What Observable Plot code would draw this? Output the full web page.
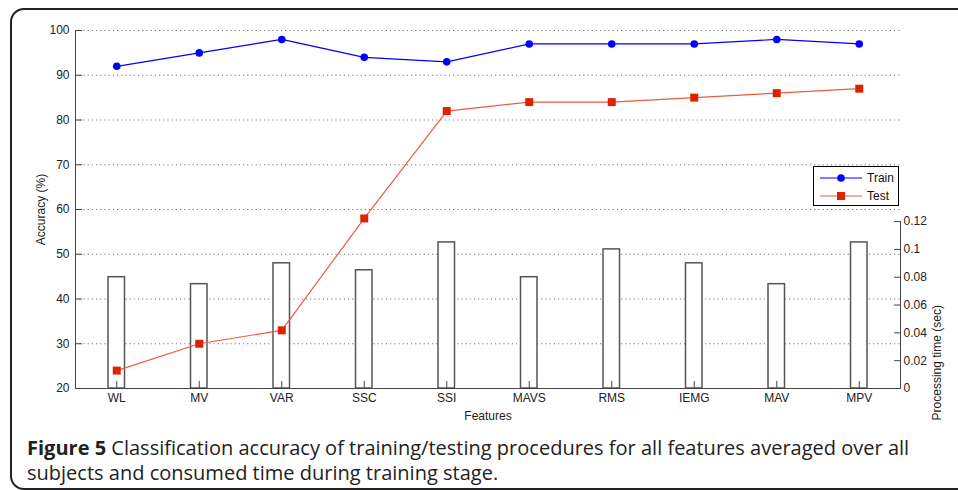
<!DOCTYPE html>
<html><head><meta charset="utf-8">
<script src="https://cdn.jsdelivr.net/npm/d3@7"></script>
<script src="https://cdn.jsdelivr.net/npm/@observablehq/plot@0.6"></script>
<style>
body{margin:0;background:#fff;font-family:"Liberation Sans",Arial,sans-serif;}
#wrap{position:relative;width:958px;height:490px;overflow:hidden;background:#fff;}
#border{position:absolute;left:10px;top:8px;width:990px;height:482px;border:2px solid #222;border-radius:14px;box-sizing:border-box;}
#chart{position:absolute;left:0;top:0;}
#legend{position:absolute;left:813px;top:166px;width:86px;height:40px;border:1px solid #000;background:#fff;box-sizing:border-box;font-size:12px;color:#111;}
#legend .row{position:absolute;left:6px;height:14px;display:flex;align-items:center;}
#legend svg{display:block;}
#caption{position:absolute;left:27px;top:435px;font-family:"Open Sans",sans-serif;font-size:17px;line-height:25px;color:#222;white-space:nowrap;}
#caption b{font-weight:700;}
</style></head>
<body>
<div id="wrap">
  <div id="border"></div>
  <div id="chart"></div>
  <div id="legend"></div>
  <div id="caption"><span id="cap1"></span><br><span id="cap2"></span></div>
</div>
<script>
const features = ["WL","MV","VAR","SSC","SSI","MAVS","RMS","IEMG","MAV","MPV"];
const trainAcc = [92,95,98,94,93,97,97,97,98,97];
const testAcc  = [24,30,33,58,82,84,84,85,86,87];
const procTime = [0.08,0.075,0.09,0.085,0.105,0.08,0.1,0.09,0.075,0.105];
const accTicks  = [20,30,40,50,60,70,80,90,100];
const timeTicks = [0,0.02,0.04,0.06,0.08,0.1,0.12];
const seriesNames = ["Train","Test"];
const seriesColors = ["#0000ff","#ee5a44"];
const markerColors = ["#0000ff","#dd2200"];
const captionBold = "Figure 5";
const captionLines = ["Classification accuracy of training/testing procedures for all features averaged over all",
  "subjects and consumed time during training stage."];

// right axis (time) mapped onto left (accuracy) scale: 0 -> 20, 0.12 -> 57.3
const accMin = 20, timeTop = 0.12, accAtTimeTop = 57.3;
const k = (accAtTimeTop - accMin) / timeTop;
const toAcc = t => accMin + t * k;
const rows = features.map((f, i) => ({i, f, train: trainAcc[i], test: testAcc[i], time: procTime[i]}));
const axisColor = "#444";

const chart = Plot.plot({
  width: 958, height: 425,
  marginLeft: 75, marginRight: 58, marginTop: 30, marginBottom: 37,
  style: {fontFamily: "'Liberation Sans', Arial, sans-serif", fontSize: "12px", color: "#222", background: "transparent"},
  x: {domain: [-0.5, 9.5]},
  y: {domain: [20, 100]},
  marks: [
    Plot.ruleY(accTicks.slice(1), {stroke: "#777", strokeDasharray: "1.2,3", strokeWidth: 1}),
    Plot.rectY(rows, {x1: d => d.i - 0.1, x2: d => d.i + 0.1, y1: accMin, y2: d => toAcc(d.time), fill: "white", stroke: "#555", strokeWidth: 1.5}),
    Plot.ruleX([-0.5], {y1: 20, y2: 100, stroke: axisColor}),
    Plot.ruleX([9.5], {y1: 20, y2: toAcc(timeTop), stroke: axisColor}),
    Plot.ruleY([20], {stroke: axisColor}),
    Plot.axisX({ticks: d3.range(features.length), tickFormat: i => features[i], tickSize: -7, tickPadding: 12, stroke: axisColor,
      label: "Features", labelAnchor: "center", labelArrow: "none", labelOffset: 31}),
    Plot.axisY({anchor: "left", ticks: accTicks, tickSize: -7, tickPadding: 13, stroke: axisColor,
      label: "Accuracy (%)", labelAnchor: "center", labelArrow: "none", labelOffset: 39}),
    Plot.axisY({anchor: "right", ticks: timeTicks.map(toAcc), tickFormat: v => String(+((v - accMin) / k).toFixed(3)),
      tickSize: -7, tickPadding: 10, stroke: axisColor, label: null}),
    Plot.text(["Processing time (sec)"], {y: toAcc(0.06), frameAnchor: "right", dx: 37, rotate: -90, fill: "#222"}),
    Plot.line(rows, {x: "i", y: "train", stroke: seriesColors[0], strokeWidth: 1.2}),
    Plot.dot(rows, {x: "i", y: "train", r: 3.8, fill: markerColors[0]}),
    Plot.line(rows, {x: "i", y: "test", stroke: seriesColors[1], strokeWidth: 1.2}),
    Plot.dot(rows, {x: "i", y: "test", r: 4.5, symbol: "square", fill: markerColors[1]})
  ]
});
document.getElementById("chart").appendChild(chart);

// legend
const legend = document.getElementById("legend");
seriesNames.forEach((name, j) => {
  const row = document.createElement("div");
  row.className = "row";
  row.style.top = (4 + j * 18) + "px";
  const sym = j === 0
    ? `<circle cx="21" cy="7" r="3.8" fill="${markerColors[0]}"/>`
    : `<rect x="17" y="3" width="8" height="8" fill="${markerColors[1]}"/>`;
  row.innerHTML = `<svg width="44" height="14"><line x1="0" x2="42" y1="7" y2="7" stroke="${seriesColors[j]}" stroke-width="1.2"/>${sym}</svg><span style="margin-left:3px">${name}</span>`;
  legend.appendChild(row);
});

// caption: fit first line to the reference width
const cap1 = document.getElementById("cap1");
cap1.innerHTML = `<b>${captionBold}</b> ${captionLines[0]}`;
document.getElementById("cap2").textContent = captionLines[1];
const cap = document.getElementById("caption");
const targetW = 883;
const w = cap1.getBoundingClientRect().width;
if (w > 0) cap.style.fontSize = (17 * targetW / w).toFixed(2) + "px";
</script>
</body></html>
